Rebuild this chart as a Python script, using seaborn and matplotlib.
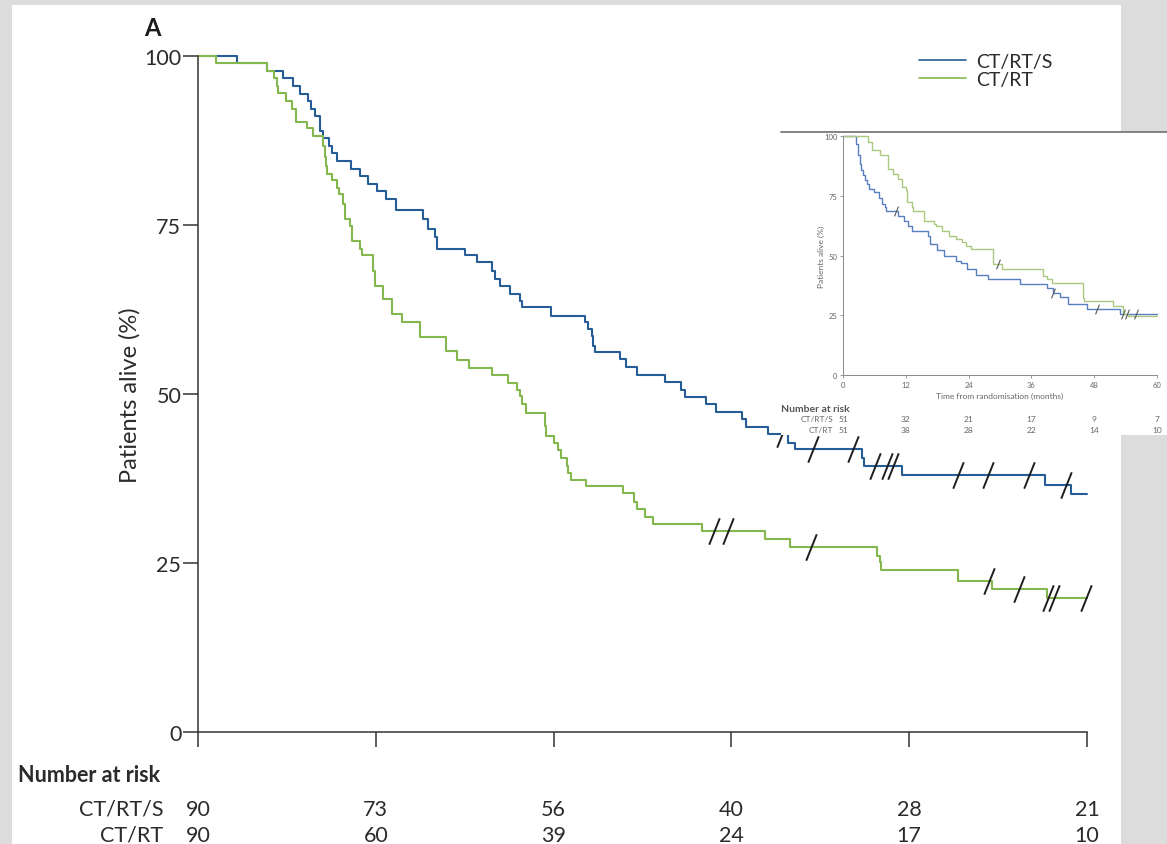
import numpy as np
import pandas as pd
import matplotlib
matplotlib.use("Agg")
import matplotlib.pyplot as plt
import matplotlib.transforms as mtransforms
from matplotlib.patches import Rectangle
from matplotlib.lines import Line2D
import seaborn as sns

# ---------------- main panel data (overall survival, months / %) ----------------
arms = ["CT/RT/S", "CT/RT"]

crts_time = [0, 2.65, 4.63, 5.71, 6.39, 6.88, 7.44, 7.6, 7.9, 8.23, 8.46, 8.86, 9.06, 9.4,
             10.3, 10.93, 11.5, 12.1, 12.7, 13.36, 15.16, 15.54, 16.0, 16.15, 18.0, 18.8,
             19.82, 20.04, 20.38, 21.05, 21.73, 21.9, 23.85, 26.1, 26.3, 26.56, 26.67,
             26.79, 28.5, 28.9, 29.6, 31.5, 32.6, 32.86, 34.3, 34.95, 36.7, 37.0, 38.5,
             39.8, 40.3, 44.8, 44.95, 47.5, 57.15, 58.95]
crts_surv = [100, 98.9, 97.8, 96.7, 95.6, 94.4, 93.3, 92.2, 91.1, 88.9, 87.8, 86.7, 85.6, 84.4,
             83.3, 82.2, 81.1, 80.0, 78.9, 77.2, 75.9, 74.4, 73.2, 71.4, 70.5, 69.5,
             68.2, 67.0, 66.0, 64.8, 63.8, 62.8, 61.6, 60.6, 59.6, 58.6, 57.1,
             56.2, 55.2, 54.0, 52.8, 51.8, 50.6, 49.5, 48.5, 47.4, 46.3, 45.1, 44.1,
             42.8, 41.9, 40.6, 39.4, 38.0, 36.5, 35.2]
crts_censor = [39.4, 41.5, 44.2, 45.7, 46.5, 46.9, 51.3, 53.3, 56.1, 58.6]

crt_time = [0, 1.2, 4.63, 5.1, 5.3, 5.42, 5.94, 6.32, 6.61, 7.33, 7.78, 8.45, 8.55, 8.62,
            8.68, 9.02, 9.4, 9.5, 9.8, 9.92, 10.26, 10.37, 10.93, 11.1, 11.8, 11.94, 12.5,
            13.07, 13.74, 14.98, 16.75, 17.45, 18.27, 19.86, 20.94, 21.55, 21.7, 21.9,
            22.13, 23.4, 23.5, 24.0, 24.3, 24.5, 24.9, 24.95, 25.2, 26.2, 28.66, 29.4,
            29.6, 30.2, 30.7, 34.0, 38.26, 39.95, 45.8, 46.0, 46.1, 51.3, 53.6, 57.3]
crt_surv = [100, 98.9, 97.8, 96.7, 95.6, 94.6, 93.4, 92.2, 90.3, 89.3, 88.1, 86.7, 85.0, 83.8,
            82.5, 81.6, 80.5, 79.6, 78.1, 75.9, 74.9, 72.7, 71.4, 70.5, 68.2, 66.0, 64.1,
            61.8, 60.6, 58.4, 56.3, 55.1, 53.9, 52.8, 51.7, 50.6, 49.7, 48.5,
            47.2, 45.3, 43.8, 42.8, 41.7, 40.6, 39.4, 38.3, 37.3, 36.4, 35.3, 34.0,
            33.0, 31.8, 30.8, 29.8, 28.6, 27.4, 26.1, 25.1, 23.9, 22.4, 21.2, 19.8]
crt_censor = [34.8, 35.8, 41.4, 53.4, 55.4, 57.35, 57.75, 59.9]

risk_times = [0, 12, 24, 36, 48, 60]
risk_crts = [90, 73, 56, 40, 28, 21]
risk_crt = [90, 60, 39, 24, 17, 10]

# ---------------- inset panel data ----------------
in_crts_time = [0, 2.42, 2.55, 2.87, 3.19, 3.51, 3.83, 4.15, 4.6, 4.98, 5.9, 6.9, 7.4, 8.1,
                8.2, 10.6, 11.7, 12.5, 13.2, 16.3, 16.6, 17.9, 19.3, 21.5, 22.5, 23.7,
                25.5, 27.8, 33.9, 38.9, 40.1, 41.5, 42.9, 46.6, 53.0]
in_crts_surv = [100, 98.0, 96.8, 91.9, 88.4, 85.6, 83.5, 81.4, 80.0, 77.9, 76.5, 74.1, 71.6, 70.2,
                68.5, 66.7, 64.6, 62.5, 60.4, 58.3, 54.8, 52.3, 49.9, 47.8, 46.7, 44.3,
                41.95, 40.1, 38.0, 36.4, 34.5, 32.7, 29.6, 27.5, 25.5]
in_crts_censor = [10.2, 40.2, 48.5, 53.5, 56.0]

in_crt_time = [0, 4.8, 5.6, 7.0, 8.6, 9.6, 10.6, 11.2, 12.1, 12.3, 13.1, 13.4, 15.5, 17.4,
               17.7, 19.0, 20.3, 21.5, 22.8, 23.5, 24.4, 28.7, 30.4, 38.2, 39.0, 40.0,
               45.8, 46.1, 51.5, 53.5, 54.5]
in_crt_surv = [100, 97.5, 94.0, 91.9, 86.3, 84.2, 82.1, 78.6, 77.2, 72.3, 70.1, 68.7, 64.6, 63.2,
               62.5, 60.4, 58.3, 56.9, 55.5, 54.1, 52.7, 46.4, 44.3, 41.5, 40.1, 38.7,
               32.4, 30.8, 29.0, 25.5, 24.5]
in_crt_censor = [29.7, 54.2]

in_risk_crts = [51, 32, 21, 17, 9, 7]
in_risk_crt = [51, 38, 28, 22, 14, 10]

# ---------------- style ----------------
sns.set_theme(style="white")
plt.rcParams["font.family"] = ["Lato", "DejaVu Sans"]

BLUE = "#275d96"
GREEN = "#84b84e"
IN_BLUE = "#5a7fc0"
IN_GREEN = "#abc97f"
INK = "#2b2b2b"
PALETTE = {"CT/RT/S": BLUE, "CT/RT": GREEN}

W, H = 1167, 845
fig = plt.figure(figsize=(W / 100, H / 100), dpi=100)
fig.patch.set_facecolor("#dcdcdc")


def fx(px):
    return px / W


def fy(py):
    return (H - py) / H


def curve_frame(times, surv, arm, end=60):
    t = list(times) + [end]
    s = list(surv) + [surv[-1]]
    return pd.DataFrame({"time": t, "surv": s, "arm": arm})


def level_at(times, surv, t):
    idx = np.searchsorted(np.asarray(times), np.asarray(t), side="right") - 1
    return np.asarray(surv)[idx]


# white page
fig.patches.append(Rectangle((fx(12), 0), fx(1121) - fx(12), fy(6), transform=fig.transFigure,
                             facecolor="white", edgecolor="none", zorder=0))

# ---------------- main axes ----------------
ax = fig.add_axes([fx(198), fy(733), fx(1087) - fx(198), fy(57) - fy(733)])
ax.set_zorder(1)
ax.patch.set_alpha(0)

df = pd.concat([curve_frame(crts_time, crts_surv, arms[0]),
                curve_frame(crt_time, crt_surv, arms[1])], ignore_index=True)
sns.lineplot(data=df, x="time", y="surv", hue="arm", hue_order=arms, palette=PALETTE,
             estimator=None, drawstyle="steps-post", linewidth=1.5, clip_on=False, ax=ax)

slash = [(-0.2, -0.5), (0.2, 0.5)]
for times, surv, cens in [(crts_time, crts_surv, crts_censor), (crt_time, crt_surv, crt_censor)]:
    ax.plot(cens, level_at(times, surv, cens), linestyle="none", marker=slash, markersize=19,
            markeredgecolor="#1e1e1e", markeredgewidth=1.4, clip_on=False, zorder=4)

ax.set_xlim(0, 60)
ax.set_ylim(0, 100)
ax.set_xticks(risk_times)
ax.set_xticklabels([])
ax.set_yticks([0, 25, 50, 75, 100])
ax.tick_params(axis="both", direction="out", length=11, width=1.1, color="#333333",
               labelsize=15.5, labelcolor=INK, pad=1, left=True, bottom=True)
for side in ["top", "right"]:
    ax.spines[side].set_visible(False)
for side in ["left", "bottom"]:
    ax.spines[side].set_color("#333333")
    ax.spines[side].set_linewidth(1.1)
ax.set_xlabel("")
ax.set_ylabel("Patients alive (%)", fontsize=17, color=INK)
ax.yaxis.set_label_coords((141 - 198) / 889, 0.5)

handles, labels = ax.get_legend_handles_labels()
leg = ax.legend(handles, labels, loc="upper left", bbox_to_anchor=(fx(919), fy(54)),
                bbox_transform=fig.transFigure, frameon=False, fontsize=14,
                handlelength=2.4, handletextpad=0.55, labelspacing=0.05,
                borderpad=0, borderaxespad=0)
for line in leg.get_lines():
    line.set_linewidth(1.2)
for txt in leg.get_texts():
    txt.set_color(INK)

fig.text(fx(152), fy(28), "A", ha="center", va="center", fontsize=17, fontweight="bold", color="#1a1a1a")

# number at risk table
risk_tf = mtransforms.blended_transform_factory(ax.transData, fig.transFigure)
fig.text(fx(18), fy(776), "Number at risk", ha="left", va="center", fontsize=15.5,
         fontweight="bold", color=INK)
for row_y, name, counts in [(810, arms[0], risk_crts), (836, arms[1], risk_crt)]:
    fig.text(fx(163), fy(row_y), name, ha="right", va="center", fontsize=15.5, color=INK)
    for t, n in zip(risk_times, counts):
        ax.text(t, fy(row_y), str(n), transform=risk_tf, ha="center", va="center",
                fontsize=15.5, color=INK)

# ---------------- inset ----------------
inset_bg = Rectangle((fx(781), fy(436)), 1 - fx(781), fy(133) - fy(436), transform=fig.transFigure,
                     facecolor="white", edgecolor="none", zorder=2)
fig.patches.append(inset_bg)
fig.lines.append(Line2D([fx(781), 1.0], [fy(133), fy(133)], transform=fig.transFigure,
                        color="#7a7a7a", linewidth=1.3, zorder=4))

iax = fig.add_axes([fx(843), fy(376), fx(1157) - fx(843), fy(137) - fy(376)])
iax.set_zorder(3)
iax.patch.set_alpha(0)
idf = pd.concat([curve_frame(in_crts_time, in_crts_surv, arms[0]),
                 curve_frame(in_crt_time, in_crt_surv, arms[1])], ignore_index=True)
sns.lineplot(data=idf, x="time", y="surv", hue="arm", hue_order=arms,
             palette={arms[0]: IN_BLUE, arms[1]: IN_GREEN}, estimator=None,
             drawstyle="steps-post", linewidth=1.0, clip_on=False, legend=False, ax=iax)
for times, surv, cens in [(in_crts_time, in_crts_surv, in_crts_censor),
                          (in_crt_time, in_crt_surv, in_crt_censor)]:
    iax.plot(cens, level_at(times, surv, cens), linestyle="none", marker=slash, markersize=7,
             markeredgecolor="#555555", markeredgewidth=0.8, clip_on=False)
iax.set_xlim(0, 60)
iax.set_ylim(0, 100)
iax.set_xticks(risk_times)
iax.set_yticks([0, 25, 50, 75, 100])
iax.tick_params(axis="both", direction="out", length=2.5, width=0.6, color="#888888",
                labelsize=5.5, labelcolor="#666666", pad=1.5, left=True, bottom=True)
for side in ["top", "right"]:
    iax.spines[side].set_visible(False)
for side in ["left", "bottom"]:
    iax.spines[side].set_color("#8a8a8a")
    iax.spines[side].set_linewidth(0.7)
iax.set_xlabel("Time from randomisation (months)", fontsize=6, color="#666666", labelpad=3)
iax.set_ylabel("Patients alive (%)", fontsize=6, color="#666666")
iax.yaxis.set_label_coords((825 - 843) / 314, 0.5)

in_tf = mtransforms.blended_transform_factory(iax.transData, fig.transFigure)
fig.text(fx(781), fy(410), "Number at risk", ha="left", va="center", fontsize=7.5,
         fontweight="bold", color="#555555", zorder=5)
for row_y, name, counts in [(420, arms[0], in_risk_crts), (431, arms[1], in_risk_crt)]:
    t = fig.text(fx(833), fy(row_y), name, ha="right", va="center", fontsize=6,
                 color="#666666", zorder=5)
    t.set_clip_path(inset_bg)
    for tm, n in zip(risk_times, counts):
        tt = iax.text(tm, fy(row_y), str(n), transform=in_tf, ha="center", va="center",
                      fontsize=6, color="#666666")
        tt.set_clip_path(inset_bg)

fig.savefig("out.png", dpi=100, facecolor=fig.get_facecolor())
